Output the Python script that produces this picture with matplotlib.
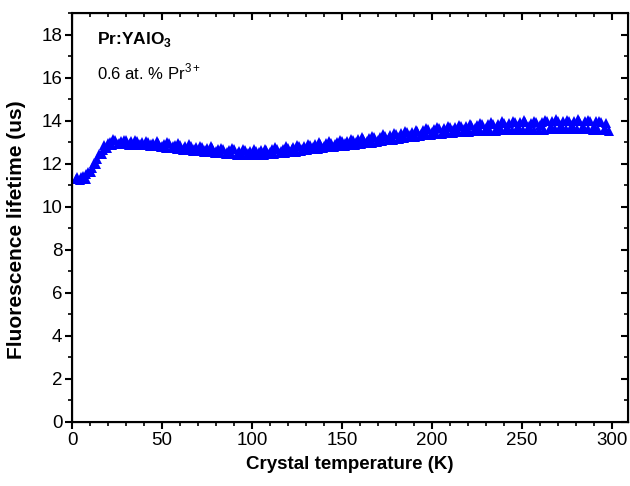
import matplotlib.pyplot as plt
from matplotlib.ticker import MultipleLocator

plt.rcParams['font.family'] = ['Liberation Sans', 'DejaVu Sans']
plt.rcParams['mathtext.fontset'] = 'custom'
plt.rcParams['mathtext.rm'] = 'Liberation Sans'
plt.rcParams['mathtext.bf'] = 'Liberation Sans:bold'

# Upper branch of the measured lifetimes
temp_a = [3, 6, 9, 12, 15, 18, 21, 24, 27, 30, 33, 36, 39, 42, 45, 48, 51, 54, 57, 60,
          63, 66, 69, 72, 75, 78, 81, 84, 87, 90, 93, 96, 99, 102, 105, 108, 111, 114, 117, 120,
          123, 126, 129, 132, 135, 138, 141, 144, 147, 150, 153, 156, 159, 162, 165, 168, 171, 174, 177, 180,
          183, 186, 189, 192, 195, 198, 201, 204, 207, 210, 213, 216, 219, 222, 225, 228, 231, 234, 237, 240,
          243, 246, 249, 252, 255, 258, 261, 264, 267, 270, 273, 276, 279, 282, 285, 288, 291, 294, 297]
life_a = [11.38, 11.42, 11.62, 12.02, 12.45, 12.88, 13.0, 13.08, 13.06, 13.08, 13.03, 13.05, 13.0, 13.02, 12.97, 12.98, 12.93, 12.94, 12.88, 12.87,
          12.82, 12.8, 12.78, 12.77, 12.72, 12.73, 12.68, 12.7, 12.64, 12.66, 12.61, 12.63, 12.58, 12.6, 12.62, 12.63, 12.66, 12.68, 12.7, 12.74,
          12.76, 12.8, 12.84, 12.86, 12.91, 12.93, 12.97, 12.98, 13.01, 13.03, 13.06, 13.09, 13.13, 13.16, 13.19, 13.24, 13.26, 13.3, 13.34, 13.38,
          13.42, 13.45, 13.48, 13.53, 13.55, 13.59, 13.62, 13.65, 13.68, 13.7, 13.72, 13.75, 13.76, 13.78, 13.8, 13.82, 13.84, 13.86, 13.86, 13.88,
          13.9, 13.92, 13.93, 13.92, 13.91, 13.93, 13.95, 13.96, 13.97, 13.97, 13.98, 14.0, 13.99, 14.0, 13.99, 13.98, 13.97, 13.95, 13.9]

# Lower branch
temp_b = [4.5, 7.5, 10.5, 13.5, 16.5, 19.5, 22.5, 25.5, 28.5, 31.5, 34.5, 37.5, 40.5, 43.5, 46.5, 49.5, 52.5, 55.5, 58.5, 61.5,
          64.5, 67.5, 70.5, 73.5, 76.5, 79.5, 82.5, 85.5, 88.5, 91.5, 94.5, 97.5, 100.5, 103.5, 106.5, 109.5, 112.5, 115.5, 118.5, 121.5,
          124.5, 127.5, 130.5, 133.5, 136.5, 139.5, 142.5, 145.5, 148.5, 151.5, 154.5, 157.5, 160.5, 163.5, 166.5, 169.5, 172.5, 175.5, 178.5, 181.5,
          184.5, 187.5, 190.5, 193.5, 196.5, 199.5, 202.5, 205.5, 208.5, 211.5, 214.5, 217.5, 220.5, 223.5, 226.5, 229.5, 232.5, 235.5, 238.5, 241.5,
          244.5, 247.5, 250.5, 253.5, 256.5, 259.5, 262.5, 265.5, 268.5, 271.5, 274.5, 277.5, 280.5, 283.5, 286.5, 289.5, 292.5, 295.5, 298.5]
life_b = [11.24, 11.3, 11.6, 12.0, 12.45, 12.75, 12.86, 12.9, 12.9, 12.88, 12.88, 12.85, 12.85, 12.82, 12.8, 12.78, 12.74, 12.72, 12.68, 12.65,
          12.62, 12.58, 12.57, 12.54, 12.52, 12.5, 12.48, 12.46, 12.45, 12.42, 12.41, 12.4, 12.39, 12.4, 12.42, 12.44, 12.46, 12.48, 12.5, 12.53,
          12.56, 12.6, 12.62, 12.66, 12.7, 12.73, 12.76, 12.77, 12.8, 12.82, 12.85, 12.88, 12.92, 12.94, 12.98, 13.02, 13.04, 13.08, 13.12, 13.15,
          13.19, 13.22, 13.25, 13.28, 13.31, 13.34, 13.38, 13.4, 13.42, 13.44, 13.45, 13.47, 13.48, 13.5, 13.5, 13.52, 13.54, 13.54, 13.56, 13.57,
          13.57, 13.58, 13.57, 13.56, 13.57, 13.58, 13.58, 13.6, 13.6, 13.6, 13.6, 13.61, 13.6, 13.6, 13.6, 13.58, 13.56, 13.55, 13.5]

# Scattered middle points (fill the band, give the jagged top edge)
temp_c = [2, 5, 8, 11, 14, 17, 20, 23, 26, 29, 32, 35, 38, 41, 44, 47, 50, 53, 56, 59,
          62, 65, 68, 71, 74, 77, 80, 83, 86, 89, 92, 95, 98, 101, 104, 107, 110, 113, 116, 119,
          122, 125, 128, 131, 134, 137, 140, 143, 146, 149, 152, 155, 158, 161, 164, 167, 170, 173, 176, 179,
          182, 185, 188, 191, 194, 197, 200, 203, 206, 209, 212, 215, 218, 221, 224, 227, 230, 233, 236, 239,
          242, 245, 248, 251, 254, 257, 260, 263, 266, 269, 272, 275, 278, 281, 284, 287, 290, 293, 296]
life_c = [11.3, 11.36, 11.5, 11.8, 12.2, 12.62, 12.98, 13.14, 12.96, 13.12, 12.98, 13.1, 12.92, 13.06, 12.9, 13.04, 12.84, 13.0, 12.82, 12.94,
          12.74, 12.9, 12.7, 12.84, 12.64, 12.8, 12.6, 12.74, 12.55, 12.72, 12.5, 12.7, 12.48, 12.66, 12.52, 12.7, 12.54, 12.76, 12.6, 12.8,
          12.66, 12.88, 12.7, 12.92, 12.78, 13.0, 12.84, 13.04, 12.9, 13.1, 12.94, 13.14, 13.0, 13.22, 13.06, 13.3, 13.12, 13.36, 13.2, 13.44,
          13.26, 13.5, 13.34, 13.58, 13.4, 13.64, 13.46, 13.7, 13.52, 13.76, 13.58, 13.8, 13.62, 13.86, 13.64, 13.88, 13.66, 13.92, 13.7, 13.96,
          13.72, 13.98, 13.74, 14.02, 13.76, 13.98, 13.78, 14.04, 13.74, 14.06, 13.8, 14.04, 13.78, 14.08, 13.76, 14.04, 13.74, 14.0, 13.68]

fig = plt.figure(figsize=(6.3, 4.86), dpi=100)
ax = fig.add_axes([0.1143, 0.1317, 0.8825, 0.8416])

for t, v in [(temp_a, life_a), (temp_b, life_b), (temp_c, life_c)]:
    ax.plot(t, v, '^', color='#0000ff', markersize=7, markeredgewidth=0)

ax.set_xlim(0, 309)
ax.set_ylim(0, 19)
ax.xaxis.set_major_locator(MultipleLocator(50))
ax.xaxis.set_minor_locator(MultipleLocator(10))
ax.yaxis.set_major_locator(MultipleLocator(2))
ax.yaxis.set_minor_locator(MultipleLocator(1))

for s in ax.spines.values():
    s.set_linewidth(1.5)
ax.tick_params(which='major', direction='out', length=5, width=1.5, labelsize=13.5, pad=2)
ax.tick_params(which='minor', direction='out', length=3, width=1.2)

# top and right axes with inward ticks
top = ax.twiny()
top.set_xlim(ax.get_xlim())
top.xaxis.set_major_locator(MultipleLocator(50))
top.xaxis.set_minor_locator(MultipleLocator(10))
top.tick_params(which='major', direction='in', length=5, width=1.5, labeltop=False)
top.tick_params(which='minor', direction='in', length=3, width=1.2)
right = ax.twinx()
right.set_ylim(ax.get_ylim())
right.yaxis.set_major_locator(MultipleLocator(2))
right.yaxis.set_minor_locator(MultipleLocator(1))
right.tick_params(which='major', direction='in', length=5, width=1.5, labelright=False)
right.tick_params(which='minor', direction='in', length=3, width=1.2)

ax.set_xlabel('Crystal temperature (K)', fontsize=13.5, fontweight='bold', labelpad=5)
ax.set_ylabel('Fluorescence lifetime (us)', fontsize=15, fontweight='bold')
ax.yaxis.set_label_coords(-0.082, 0.47)

ax.text(0.045, 0.935, r'Pr:YAlO$_\mathbf{3}$', transform=ax.transAxes,
        fontsize=12.5, fontweight='bold', va='center')
ax.text(0.045, 0.855, r'0.6 at. % Pr$^{3+}$', transform=ax.transAxes,
        fontsize=12, va='center')

fig.savefig('out.png', dpi=100)
